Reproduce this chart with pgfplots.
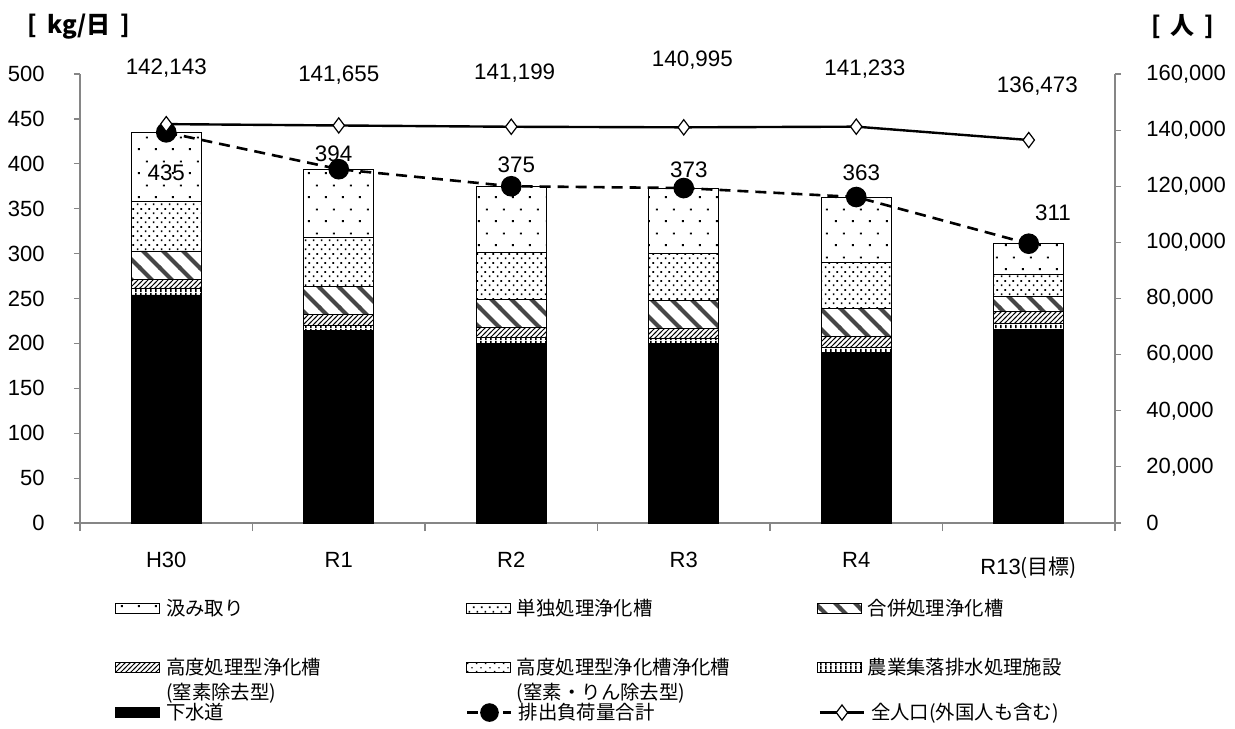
\documentclass[border=0pt]{standalone}
\usepackage{fontspec}
\setmainfont{Noto Sans CJK JP}
\newfontfamily\jp{Noto Sans CJK JP}
\newfontfamily\lat{Liberation Sans}
\usepackage{pgfplots}
\pgfplotsset{compat=1.18}
\usetikzlibrary{patterns}

\definecolor{axgray}{RGB}{134,134,134}
\definecolor{diaggray}{RGB}{70,70,70}

\newcommand\numfont{\lat\fontsize{11}{13}\selectfont}
\newcommand\lblfont{\lat\fontsize{11.2}{13}\selectfont}
\newcommand\jpfont{\jp\fontsize{9.7}{12.5}\selectfont}

\pgfdeclarepatternformonly{sparsedots}{\pgfpointorigin}{\pgfqpoint{8.5pt}{12pt}}{\pgfqpoint{8.5pt}{12pt}}{%
 \pgfpathrectangle{\pgfqpoint{1pt}{1pt}}{\pgfqpoint{1pt}{1pt}}%
 \pgfpathrectangle{\pgfqpoint{5.25pt}{7pt}}{\pgfqpoint{1pt}{1pt}}%
 \pgfusepath{fill}}
\pgfdeclarepatternformonly{densedots}{\pgfpointorigin}{\pgfqpoint{4pt}{4.6pt}}{\pgfqpoint{4pt}{4.6pt}}{%
 \pgfpathrectangle{\pgfqpoint{0.5pt}{0.5pt}}{\pgfqpoint{0.9pt}{0.9pt}}%
 \pgfpathrectangle{\pgfqpoint{2.5pt}{2.8pt}}{\pgfqpoint{0.9pt}{0.9pt}}%
 \pgfusepath{fill}}
\pgfdeclarepatternformonly{thickdiag}{\pgfqpoint{-1pt}{-1pt}}{\pgfqpoint{11pt}{11pt}}{\pgfqpoint{10pt}{10pt}}{%
 \pgfsetlinewidth{2pt}%
 \pgfpathmoveto{\pgfqpoint{-1pt}{11pt}}\pgfpathlineto{\pgfqpoint{11pt}{-1pt}}%
 \pgfusepath{stroke}}
\pgfdeclarepatternformonly{thinhatch}{\pgfqpoint{-1pt}{-1pt}}{\pgfqpoint{3.5pt}{3.5pt}}{\pgfqpoint{2.5pt}{2.5pt}}{%
 \pgfsetlinewidth{0.45pt}%
 \pgfpathmoveto{\pgfqpoint{-0.5pt}{-0.5pt}}\pgfpathlineto{\pgfqpoint{3pt}{3pt}}%
 \pgfusepath{stroke}}
\pgfdeclarepatternformonly{vlines}{\pgfpointorigin}{\pgfqpoint{2.5pt}{2pt}}{\pgfqpoint{2.5pt}{2pt}}{%
 \pgfpathrectangle{\pgfpointorigin}{\pgfqpoint{1pt}{2pt}}\pgfusepath{fill}}
\pgfdeclarepatternformonly{nrdots}{\pgfpointorigin}{\pgfqpoint{4.4pt}{4pt}}{\pgfqpoint{4.4pt}{4pt}}{%
 \pgfpathrectangle{\pgfqpoint{0.5pt}{0.5pt}}{\pgfqpoint{0.7pt}{0.7pt}}%
 \pgfpathrectangle{\pgfqpoint{2.7pt}{2.5pt}}{\pgfqpoint{0.7pt}{0.7pt}}%
 \pgfusepath{fill}}

\pgfplotsset{
 common/.style={at={(0pt,0pt)}, anchor=south west, scale only axis,
   width=517.5pt, height=224.5pt, xmin=-0.5, xmax=5.5, clip=false, enlargelimits=false},
 barimg/.style={legend image code/.code={\draw[##1] (0pt,1.1pt) rectangle (22pt,6.1pt);}},
 lineimg/.style={legend image code/.code={\draw[mark repeat=2,mark phase=2,##1] plot coordinates {(0pt,3.6pt) (11pt,3.6pt) (22pt,3.6pt)};}},
 legrow/.style={legend columns=3,
  legend style={draw=none, fill=none, at={(0.0338,#1)}, anchor=north west,
    inner sep=0pt, row sep=0pt, font=\jpfont,
    cells={anchor=base west},
    nodes={inner sep=0pt, text width=140pt},
    /tikz/every odd column/.append style={column sep=3pt},
    /tikz/every even column/.append style={column sep=10pt}}},
 hiddenleg/.style={common, ymin=0, ymax=1, hide axis, legrow=#1},
}

\begin{document}
\begin{tikzpicture}
\path[use as bounding box] (-40pt,-102.5pt) rectangle (577.5pt,261.5pt);

% ---- stacked bars (left axis, kg/day)
\begin{axis}[common, ymin=0, ymax=500, ybar stacked, bar width=35pt,
  axis x line*=bottom, axis y line*=left,
  axis line style={axgray, line width=0.6pt},
  tick align=outside, major tick length=3pt, minor tick length=4pt,
  tick style={axgray, line width=0.6pt},
  major x tick style={draw=none},
  ytick={0,50,...,500},
  xtick={0,...,5},
  minor xtick={-0.5,0.5,...,5.5},
  xticklabels={H30,R1,R2,R3,R4,{\raisebox{-3.5pt}{R13{\jp\fontsize{10.5}{12}\selectfont(目標)}}}},
  yticklabel style={font=\numfont, anchor=east, inner sep=0pt, xshift=-14.5pt},
  xticklabel style={font=\numfont, anchor=base, inner sep=0pt, yshift=-19pt},
  /pgf/number format/.cd, fixed, assume math mode=true,
]
\addplot[draw=black, line width=0.4pt, fill=black] coordinates {(0,254) (1,214) (2,200) (3,200) (4,190) (5,216)};
\addplot[draw=black, line width=0.4pt, pattern=vlines] coordinates {(0,7) (1,6) (2,7) (3,6) (4,6) (5,6)};
\addplot[draw=black, line width=0.4pt, pattern=thinhatch] coordinates {(0,10) (1,12) (2,11) (3,11) (4,12) (5,14)};
\addplot[draw=black, line width=0.4pt, pattern=thickdiag, pattern color=diaggray] coordinates {(0,32) (1,31) (2,31) (3,31) (4,31) (5,16)};
\addplot[draw=black, line width=0.4pt, pattern=densedots] coordinates {(0,55) (1,55) (2,52) (3,52) (4,51) (5,25)};
\addplot[draw=black, line width=0.4pt, pattern=sparsedots] coordinates {(0,77) (1,76) (2,74) (3,73) (4,73) (5,34)};
\node[font=\bfseries\fontsize{12}{14}\selectfont] at (rel axis cs:-0.001,1.1053) {[\hspace{5pt}kg/日\hspace{5pt}]};
\node[font=\bfseries\fontsize{12}{14}\selectfont] at (rel axis cs:1.0657,1.1053) {[\hspace{5pt}人\hspace{5pt}]};
\end{axis}

% ---- total load line + data labels (left scale)
\begin{axis}[common, ymin=0, ymax=500, hide axis]
\addplot[black, line width=1.3pt, dash pattern=on 5.5pt off 3.5pt, mark=*, mark size=4.5pt, mark options={solid, fill=black}]
  coordinates {(0,435) (1,394) (2,375) (3,373) (4,363) (5,311)};
\addplot[only marks, mark=*, mark size=0pt, mark options={draw=none, fill=none},
  nodes near coords, point meta=explicit symbolic, nodes near coords align=center,
  nodes near coords style={font=\lblfont, anchor=center, inner sep=0pt, text=black}]
  coordinates {(0,390)[435] (0.97,411.5)[394] (2.03,398.5)[375] (3.03,393)[373] (4.03,390)[363] (5.14,345)[311]
   (0,507)[142,143] (1,498.5)[141,655] (2.02,501)[141,199] (3.05,515.5)[140,995] (4.05,505.5)[141,233] (5.05,486)[136,473]};
\end{axis}

% ---- legend row 1
\begin{axis}[hiddenleg=-0.1693]
\addlegendimage{barimg, draw=black, line width=0.4pt, pattern=sparsedots}
\addlegendentry{汲み取り}
\addlegendimage{barimg, draw=black, line width=0.4pt, pattern=densedots}
\addlegendentry{単独処理浄化槽}
\addlegendimage{barimg, draw=black, line width=0.4pt, pattern=thickdiag, pattern color=diaggray}
\addlegendentry{合併処理浄化槽}
\end{axis}

% ---- legend row 2
\begin{axis}[hiddenleg=-0.2985]
\addlegendimage{barimg, draw=black, line width=0.4pt, pattern=thinhatch}
\addlegendentry{{\begin{tabular}[t]{@{}l@{}}高度処理型浄化槽\\(窒素除去型)\end{tabular}}}
\addlegendimage{barimg, draw=none, pattern=nrdots}
\addlegendentry{{\begin{tabular}[t]{@{}l@{}}高度処理型浄化槽浄化槽\\(窒素・りん除去型)\end{tabular}}}
\addlegendimage{barimg, draw=black, line width=0.4pt, pattern=vlines}
\addlegendentry{農業集落排水処理施設}
\end{axis}

% ---- population (right axis) + legend row 3
\begin{axis}[common, ymin=0, ymax=160000,
  axis y line*=right, axis x line=none,
  axis line style={axgray, line width=0.6pt},
  tick align=outside, major tick length=3pt,
  tick style={axgray, line width=0.6pt},
  ytick={0,20000,...,160000}, scaled y ticks=false,
  yticklabel style={font=\numfont, anchor=west, inner sep=0pt, xshift=12.5pt},
  legrow=-0.4009,
  /pgf/number format/.cd, fixed, 1000 sep={,}, assume math mode=true,
]
\addlegendimage{barimg, draw=black, fill=black}
\addlegendentry{下水道}
\addlegendimage{lineimg, black, line width=1.3pt, dash pattern=on 5.5pt off 3.5pt, mark=*, mark size=4pt, mark options={solid, fill=black}}
\addlegendentry{排出負荷量合計}
\addplot[lineimg, black, line width=1.2pt, mark=diamond*, mark size=3.8pt, mark options={fill=white, line width=0.6pt}]
  coordinates {(0,142143) (1,141655) (2,141199) (3,140995) (4,141233) (5,136473)};
\addlegendentry{全人口(外国人も含む)}
\end{axis}
\end{tikzpicture}
\end{document}
